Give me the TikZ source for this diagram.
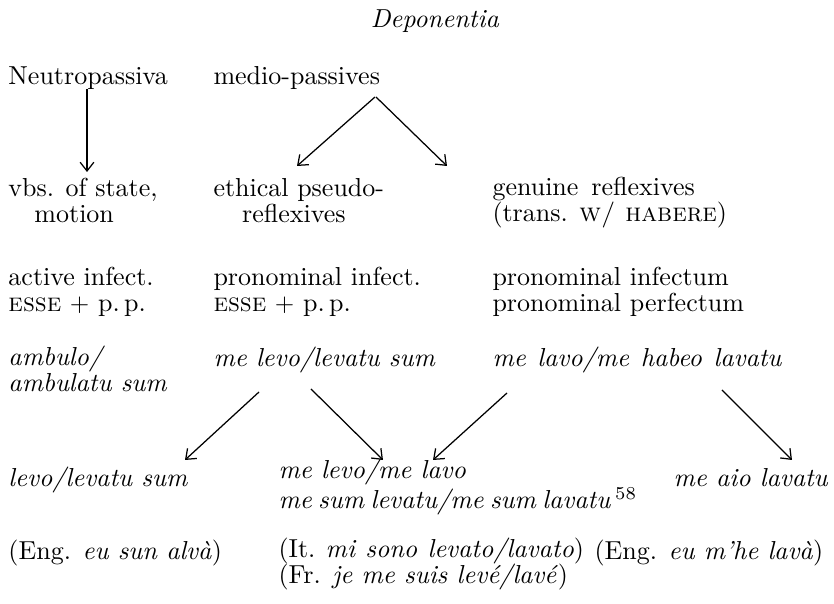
\documentclass[tikz,border=0pt]{standalone}
\usepackage{tikz}
\usetikzlibrary{positioning,calc,arrows.meta}

\begin{document}
\begin{tikzpicture}[x=0.4pt,y=-0.4pt,
    every node/.style={inner sep=0pt, font=\fontsize{10.4}{10.5}\selectfont},
    lbl/.style={anchor=base west, align=left},
    arr/.style={line width=0.5pt, -{Straight Barb[length=3.5pt,width=5.5pt]}}]
    \useasboundingbox (0,0) rectangle (834,604);

    % Heading and first row
    \node[anchor=base] (dep) at (435,28) {\textit{Deponentia}};
    \node[lbl] (neutro) at (8,85) {Neutropassiva};
    \node[lbl] (medio) at (213,85) {medio-passives};

    % Classes (base = last line)
    \node[lbl] (vbs) at (8,223) {vbs. of state,\\\hspace*{1em}motion};
    \node[lbl] (ethical) at (213,223) {ethical pseudo-\\\hspace*{1.1em}reflexives};
    \node[lbl] (genuine) at (492,222) {genuine\hspace{0.5em}reflexives\\(trans. \textsc{w/ habere})};

    % Forms
    \node[lbl] (active) at (8,312) {active infect.\\\textsc{esse} $+$ p.\,p.};
    \node[lbl] (pronom) at (213,312) {pronominal infect.\\\textsc{esse} $+$ p.\,p.};
    \node[lbl] (pronfull) at (492,312) {pronominal infectum\\pronominal perfectum};

    % Latin examples
    \node[lbl] (ambulo) at (8,392) {\textit{ambulo/}\\\textit{ambulatu sum}};
    \node[lbl] (melevo) at (213,367) {\textit{me levo/levatu sum}};
    \node[lbl] (melavo) at (492,367) {\textit{me\hspace{0.45em}lavo/me\hspace{0.45em}habeo\hspace{0.45em}lavatu}};

    % Romance outcomes
    \node[lbl] (levo) at (8,487) {\textit{levo/levatu sum}};
    \node[lbl] (mesum) at (278,509) {\textit{me levo/me lavo}\\\textit{me\hspace{0.25em}sum\hspace{0.25em}levatu/me\hspace{0.25em}sum\hspace{0.25em}lavatu}\,\textsuperscript{58}};
    \node[lbl] (meaio) at (673,487) {\textit{me aio lavatu}};

    % Glosses
    \node[lbl] (engsun) at (8,560) {(Eng. \textit{eu sun alvà})};
    \node[lbl] (itfr) at (278,584) {(It.\hspace{0.4em}\textit{mi\hspace{0.4em}sono\hspace{0.4em}levato/lavato})\\(Fr. \textit{je me suis levé/lavé})};
    \node[lbl] (enghe) at (594,560) {(Eng. \textit{eu m'he lavà})};

    % Arrows
    \draw[arr] ($(neutro.base west)+(79,4)$) -- ($(vbs.base west)+(79,-51)$);
    \draw[arr] ($(medio.base west)+(162,12)$) -- ($(ethical.base west)+(84,-57)$);
    \draw[arr] ($(medio.base west)+(163,12)$) -- ($(genuine.base west)+(-45,-56)$);
    \draw[arr] ($(melevo.base west)+(46,25)$) -- ($(levo.base west)+(177,-27)$);
    \draw[arr] ($(melevo.base west)+(98,22)$) -- ($(mesum.base west)+(105,-49)$);
    \draw[arr] ($(melavo.base west)+(15,26)$) -- ($(mesum.base west)+(155,-49)$);
    \draw[arr] ($(melavo.base west)+(230,23)$) -- ($(meaio.base west)+(119,-27)$);
\end{tikzpicture}
\end{document}
